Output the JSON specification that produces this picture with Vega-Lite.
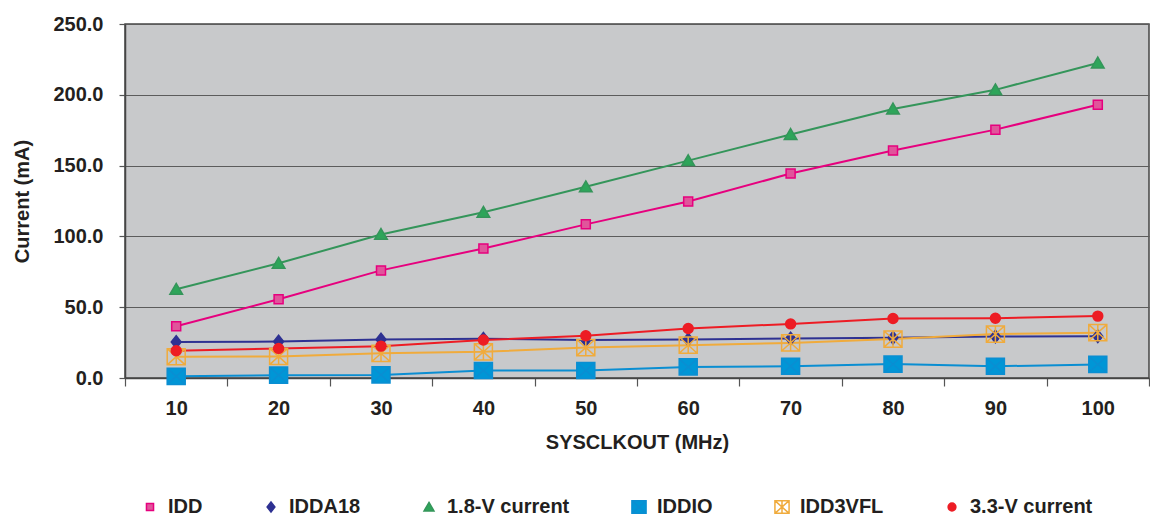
{
  "$schema": "https://vega.github.io/schema/vega-lite/v6.json",
  "width": 1024,
  "height": 354,
  "autosize": {"type": "none"},
  "padding": {"left": 125, "top": 24, "right": 1, "bottom": 143},
  "background": "white",
  "config": {
    "font": "Liberation Sans",
    "view": {"stroke": "#454545", "strokeWidth": 1.5, "fill": "#c8c9cb"},
    "axis": {
      "labelFont": "Liberation Sans", "labelFontWeight": "bold", "labelFontSize": 20, "labelColor": "#231f20",
      "titleFont": "Liberation Sans", "titleFontWeight": "bold", "titleFontSize": 20, "titleColor": "#231f20",
      "domainColor": "#454545", "domainWidth": 1.5, "tickColor": "#555555", "tickWidth": 1.2
    },
    "legend": {
      "orient": "none", "legendX": 15, "legendY": 473,
      "direction": "horizontal", "columns": 6, "columnPadding": 58,
      "symbolSize": 200, "symbolStrokeWidth": 1.5,
      "labelFont": "Liberation Sans", "labelFontWeight": "bold", "labelFontSize": 20, "labelColor": "#231f20",
      "labelOffset": 8, "labelLimit": 300
    }
  },
  "data": {
    "values": [
      {"f": 10, "series": "IDD", "v": 36.6}, {"f": 20, "series": "IDD", "v": 55.6}, {"f": 30, "series": "IDD", "v": 76}, {"f": 40, "series": "IDD", "v": 91.5}, {"f": 50, "series": "IDD", "v": 108.5}, {"f": 60, "series": "IDD", "v": 124.6}, {"f": 70, "series": "IDD", "v": 144.4}, {"f": 80, "series": "IDD", "v": 160.6}, {"f": 90, "series": "IDD", "v": 175.4}, {"f": 100, "series": "IDD", "v": 193},
      {"f": 10, "series": "IDDA18", "v": 25.5}, {"f": 20, "series": "IDDA18", "v": 25.7}, {"f": 30, "series": "IDDA18", "v": 27.2}, {"f": 40, "series": "IDDA18", "v": 27.7}, {"f": 50, "series": "IDDA18", "v": 26.8}, {"f": 60, "series": "IDDA18", "v": 27.2}, {"f": 70, "series": "IDDA18", "v": 27.9}, {"f": 80, "series": "IDDA18", "v": 28.4}, {"f": 90, "series": "IDDA18", "v": 29.3}, {"f": 100, "series": "IDDA18", "v": 29.5},
      {"f": 10, "series": "1.8-V current", "v": 62.7}, {"f": 20, "series": "1.8-V current", "v": 81}, {"f": 30, "series": "1.8-V current", "v": 101.4}, {"f": 40, "series": "1.8-V current", "v": 117}, {"f": 50, "series": "1.8-V current", "v": 135}, {"f": 60, "series": "1.8-V current", "v": 153.5}, {"f": 70, "series": "1.8-V current", "v": 172}, {"f": 80, "series": "1.8-V current", "v": 190}, {"f": 90, "series": "1.8-V current", "v": 203.5}, {"f": 100, "series": "1.8-V current", "v": 222.5},
      {"f": 10, "series": "IDDIO", "v": 1.2}, {"f": 20, "series": "IDDIO", "v": 2.0}, {"f": 30, "series": "IDDIO", "v": 2.2}, {"f": 40, "series": "IDDIO", "v": 5.3}, {"f": 50, "series": "IDDIO", "v": 5.3}, {"f": 60, "series": "IDDIO", "v": 7.8}, {"f": 70, "series": "IDDIO", "v": 8.3}, {"f": 80, "series": "IDDIO", "v": 9.8}, {"f": 90, "series": "IDDIO", "v": 8.3}, {"f": 100, "series": "IDDIO", "v": 9.6},
      {"f": 10, "series": "IDD3VFL", "v": 15}, {"f": 20, "series": "IDD3VFL", "v": 15.2}, {"f": 30, "series": "IDD3VFL", "v": 17.4}, {"f": 40, "series": "IDD3VFL", "v": 18.5}, {"f": 50, "series": "IDD3VFL", "v": 21.5}, {"f": 60, "series": "IDD3VFL", "v": 23.2}, {"f": 70, "series": "IDD3VFL", "v": 24.8}, {"f": 80, "series": "IDD3VFL", "v": 27.5}, {"f": 90, "series": "IDD3VFL", "v": 31}, {"f": 100, "series": "IDD3VFL", "v": 32},
      {"f": 10, "series": "3.3-V current", "v": 19.2}, {"f": 20, "series": "3.3-V current", "v": 20.9}, {"f": 30, "series": "3.3-V current", "v": 22.5}, {"f": 40, "series": "3.3-V current", "v": 26.8}, {"f": 50, "series": "3.3-V current", "v": 29.8}, {"f": 60, "series": "3.3-V current", "v": 35}, {"f": 70, "series": "3.3-V current", "v": 38.2}, {"f": 80, "series": "3.3-V current", "v": 42}, {"f": 90, "series": "3.3-V current", "v": 42.2}, {"f": 100, "series": "3.3-V current", "v": 43.7}
    ]
  },
  "encoding": {
    "x": {
      "field": "f", "type": "quantitative",
      "scale": {"domain": [5, 105], "nice": false, "zero": false},
      "axis": {
        "values": [5, 15, 25, 35, 45, 55, 65, 75, 85, 95, 105],
        "labelExpr": "datum.value > 100 ? '' : format(datum.value + 5, 'd')",
        "labelOffset": 51.2, "labelAlign": "center",
        "tickSize": 8, "labelPadding": 12, "grid": false,
        "title": "SYSCLKOUT (MHz)", "titlePadding": 14
      }
    },
    "y": {
      "field": "v", "type": "quantitative",
      "scale": {"domain": [0, 250], "nice": false},
      "axis": {
        "values": [0, 50, 100, 150, 200, 250], "format": ".1f",
        "grid": true, "gridColor": "#5c5c5c", "gridWidth": 1.2,
        "tickSize": 6, "labelPadding": 16,
        "title": "Current (mA)", "titlePadding": 20
      }
    },
    "stroke": {
      "field": "series", "type": "nominal",
      "scale": {
        "domain": ["IDD", "IDDA18", "1.8-V current", "IDDIO", "IDD3VFL", "3.3-V current"],
        "range": ["#e6007e", "#2e3192", "#34955a", "#0a8ed2", "#f0ab3c", "#ed1c24"]
      },
      "legend": {
        "title": null, "orient": "none", "legendX": 15, "legendY": 473,
        "direction": "horizontal", "columns": 6, "columnPadding": 58,
        "symbolSize": 200, "symbolStrokeWidth": 1.5,
        "labelFont": "Liberation Sans", "labelFontWeight": "bold", "labelFontSize": 20, "labelColor": "#231f20",
        "labelOffset": 8, "labelLimit": 300
      }
    }
  },
  "layer": [
    {
      "mark": {"type": "line", "strokeWidth": 2}
    },
    {
      "mark": {"type": "point", "size": 324, "strokeWidth": 1.5, "opacity": 1},
      "encoding": {
        "shape": {
          "field": "series", "type": "nominal",
          "scale": {
            "domain": ["IDD", "IDDA18", "1.8-V current", "IDDIO", "IDD3VFL", "3.3-V current"],
            "range": [
              "M-0.5,-0.5H0.5V0.5H-0.5Z",
              "M0,-0.7L0.55,0L0,0.7L-0.55,0Z",
              "M0,-0.65L0.7,0.55H-0.7Z",
              "M-1,-0.9H1V0.9H-1ZM-1,-0.9L1,0.9M1,-0.9L-1,0.9",
              "M-1,-0.9H1V0.9H-1ZM-1,-0.9L1,0.9M1,-0.9L-1,0.9M0,-0.9V0.9",
              "M-0.55,0A0.55,0.55 0 1,0 0.55,0A0.55,0.55 0 1,0 -0.55,0Z"
            ]
          },
          "legend": {
            "title": null, "orient": "none", "legendX": 15, "legendY": 473,
            "direction": "horizontal", "columns": 6, "columnPadding": 58,
            "symbolSize": 200, "symbolStrokeWidth": 1.5,
            "labelFont": "Liberation Sans", "labelFontWeight": "bold", "labelFontSize": 20, "labelColor": "#231f20",
            "labelOffset": 8, "labelLimit": 300
          }
        },
        "fill": {
          "field": "series", "type": "nominal",
          "scale": {
            "domain": ["IDD", "IDDA18", "1.8-V current", "IDDIO", "IDD3VFL", "3.3-V current"],
            "range": ["#e0559b", "#2e3192", "#2ea55a", "#0096d6", "transparent", "#ed1c24"]
          },
          "legend": {
            "title": null, "orient": "none", "legendX": 15, "legendY": 473,
            "direction": "horizontal", "columns": 6, "columnPadding": 58,
            "symbolSize": 200, "symbolStrokeWidth": 1.5,
            "labelFont": "Liberation Sans", "labelFontWeight": "bold", "labelFontSize": 20, "labelColor": "#231f20",
            "labelOffset": 8, "labelLimit": 300
          }
        }
      }
    }
  ]
}
